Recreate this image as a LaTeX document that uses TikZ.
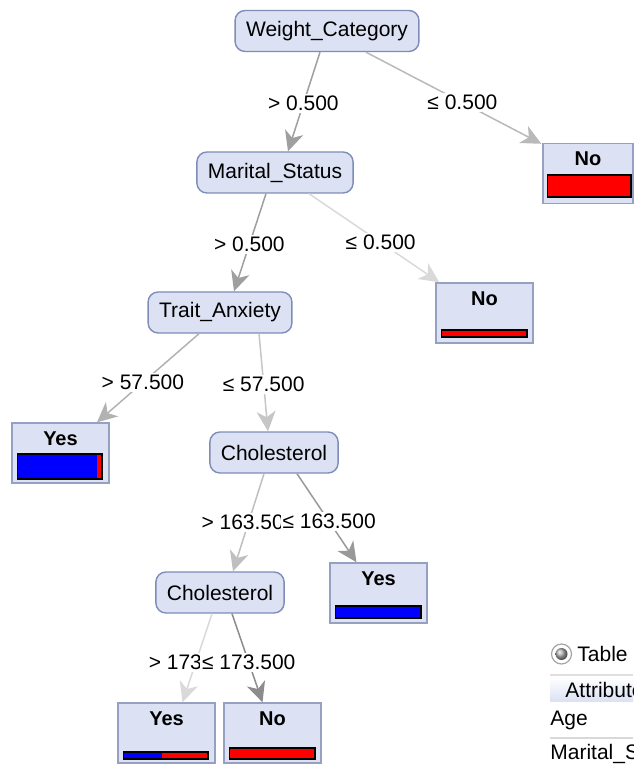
\documentclass[tikz,border=0pt]{standalone}
\usepackage{fontspec}
\setmainfont{Liberation Sans}
\usepackage{tikz}
\usetikzlibrary{
  	arrows.meta,
  	calc,
  	positioning,
		shadings
  }
\definecolor{nodefill}{RGB}{220,226,243}
\definecolor{splitborder}{RGB}{126,140,184}
\definecolor{leafborder}{RGB}{150,160,192}
\definecolor{barblue}{RGB}{0,0,255}
\definecolor{barred}{RGB}{255,0,0}
\tikzstyle{split}=[rectangle,rounded corners=5pt,draw=splitborder,fill=nodefill,line width=0.7pt,minimum height=20.5pt,inner xsep=5.5pt]
\tikzstyle{leaf}=[rectangle,draw=leafborder,fill=nodefill,line width=0.7pt,minimum width=48.5pt,minimum height=30pt]
\tikzstyle{edge}=[line width=0.75pt,-{Stealth[length=10pt,width=9.5pt,inset=3pt]}]
\tikzstyle{cond}=[fill=white,inner sep=1pt]
\tikzstyle{bar}=[draw=black,line width=0.8pt]

\begin{document}
\begin{tikzpicture}[x=0.5pt,y=-0.5pt,font=\fontsize{10.5}{12.6}\selectfont]
\useasboundingbox (0,0) rectangle (633,764);
% splits
\node[split] (wc) at (327,31) {Weight\_Category};
\node[split] (ms) at (275,172.5) {Marital\_Status};
\node[split] (ta) at (220,312.5) {Trait\_Anxiety};
\node[split] (ch1) at (274,452.5) {Cholesterol};
\node[split] (ch2) at (220,592.5) {Cholesterol};
% leaves
\node[leaf,minimum width=45pt,label={[anchor=north,font=\bfseries,yshift=-1pt]north:No}] (no1) at (588,173.5) {};
\node[leaf,label={[anchor=north,font=\bfseries,yshift=-1pt]north:No}] (no2) at (484.5,313) {};
\node[leaf,label={[anchor=north,font=\bfseries,yshift=-1pt]north:Yes}] (yes1) at (60.5,453) {};
\node[leaf,label={[anchor=north,font=\bfseries,yshift=-1pt]north:Yes}] (yes2) at (378.5,593) {};
\node[leaf,label={[anchor=north,font=\bfseries,yshift=-1pt]north:Yes}] (yes3) at (166.5,733) {};
\node[leaf,label={[anchor=north,font=\bfseries,yshift=-1pt]north:No}] (no3) at (272.5,733) {};
% bars
\filldraw[bar,fill=barred] ($(no1.south west)+(5,-7)$) rectangle ($(no1.south east)+(-3,-29)$);
\filldraw[bar,fill=barred] ($(no2.south west)+(6,-7)$) rectangle ($(no2.south east)+(-7,-14)$);
\fill[barblue] ($(yes1.south west)+(6,-5)$) rectangle ($(yes1.south east)+(-13,-30)$);
\fill[barred] ($(yes1.south east)+(-13,-5)$) rectangle ($(yes1.south east)+(-8,-30)$);
\draw[bar] ($(yes1.south west)+(6,-5)$) rectangle ($(yes1.south east)+(-8,-30)$);
\filldraw[bar,fill=barblue] ($(yes2.south west)+(6,-6)$) rectangle ($(yes2.south east)+(-7,-18)$);
\fill[barblue] ($(yes3.south west)+(6,-5)$) rectangle ($(yes3.south west)+(45,-12)$);
\fill[barred] ($(yes3.south west)+(45,-5)$) rectangle ($(yes3.south east)+(-8,-12)$);
\draw[bar] ($(yes3.south west)+(6,-5)$) rectangle ($(yes3.south east)+(-8,-12)$);
\filldraw[bar,fill=barred] ($(no3.south west)+(6,-5)$) rectangle ($(no3.south east)+(-7,-16)$);
% edges
\draw[edge,gray!75] ($(wc.south)+(-7,0)$) -- node[cond,text=black,pos=0.52] {> 0.500} ($(ms.north)+(13,0)$);
\draw[edge,gray!55] ($(wc.south)+(39,0)$) -- node[cond,text=black,pos=0.55] {≤ 0.500} ($(no1.north west)+(-1,1)$);
\draw[edge,gray!75] ($(ms.south)+(-9,0)$) -- node[cond,text=black,pos=0.52] {> 0.500} ($(ta.north)+(14,0)$);
\draw[edge,gray!30] ($(ms.south)+(34,0)$) -- node[cond,text=black,pos=0.55] {≤ 0.500} ($(no2.north west)+(4,0)$);
\draw[edge,gray!60] ($(ta.south)+(-21,0)$) -- node[cond,text=black,pos=0.55] {> 57.500} ($(yes1.north)+(36.5,0)$);
\draw[edge,gray!45] ($(ta.south)+(39,0)$) -- node[cond,text=black,pos=0.52] {≤ 57.500} ($(ch1.north)+(-6,0)$);
\draw[edge,gray!50] ($(ch1.south)+(-10,0)$) -- node[cond,text=black] {> 163.500} ($(ch2.north)+(13,0)$);
\draw[edge,gray!80] ($(ch1.south)+(23,0)$) -- node[cond,text=black,pos=0.54] {≤ 163.500} ($(yes2.north)+(-22,0)$);
\draw[edge,gray!30] ($(ch2.south)+(-8,0)$) -- node[cond,text=black,pos=0.55] {> 173.500} ($(yes3.north)+(16,0)$);
\draw[edge,gray!90] ($(ch2.south)+(12,0)$) -- node[cond,text=black,pos=0.55] {≤ 173.500} ($(no3.north)+(-10,0)$);
% table panel
\begin{scope}
\clip (540,635) rectangle (633,764);
\draw[gray!70,fill=white,line width=0.6pt] (561.5,654) circle [radius=5pt];
\shade[ball color=gray!60] (561.5,654) circle [radius=3pt];
\node[anchor=west,inner sep=0pt] (tabname) at (577,654) {Table};
\draw[gray!25,line width=0.6pt] (550,675) -- (633,675);
\shade[top color=white,bottom color=nodefill] (550,677) rectangle (633,701);
\node[anchor=west,inner sep=0pt] (attrcol) at (565,690) {Attribute};
\node[anchor=west,inner sep=0pt] (agerow) at (550,720) {Age};
\draw[gray!30,line width=1pt] (550,738) -- (633,738);
\node[anchor=west,inner sep=0pt] (msrow) at (550,754) {Marital\_Status};
\end{scope}
\end{tikzpicture}
\end{document}
